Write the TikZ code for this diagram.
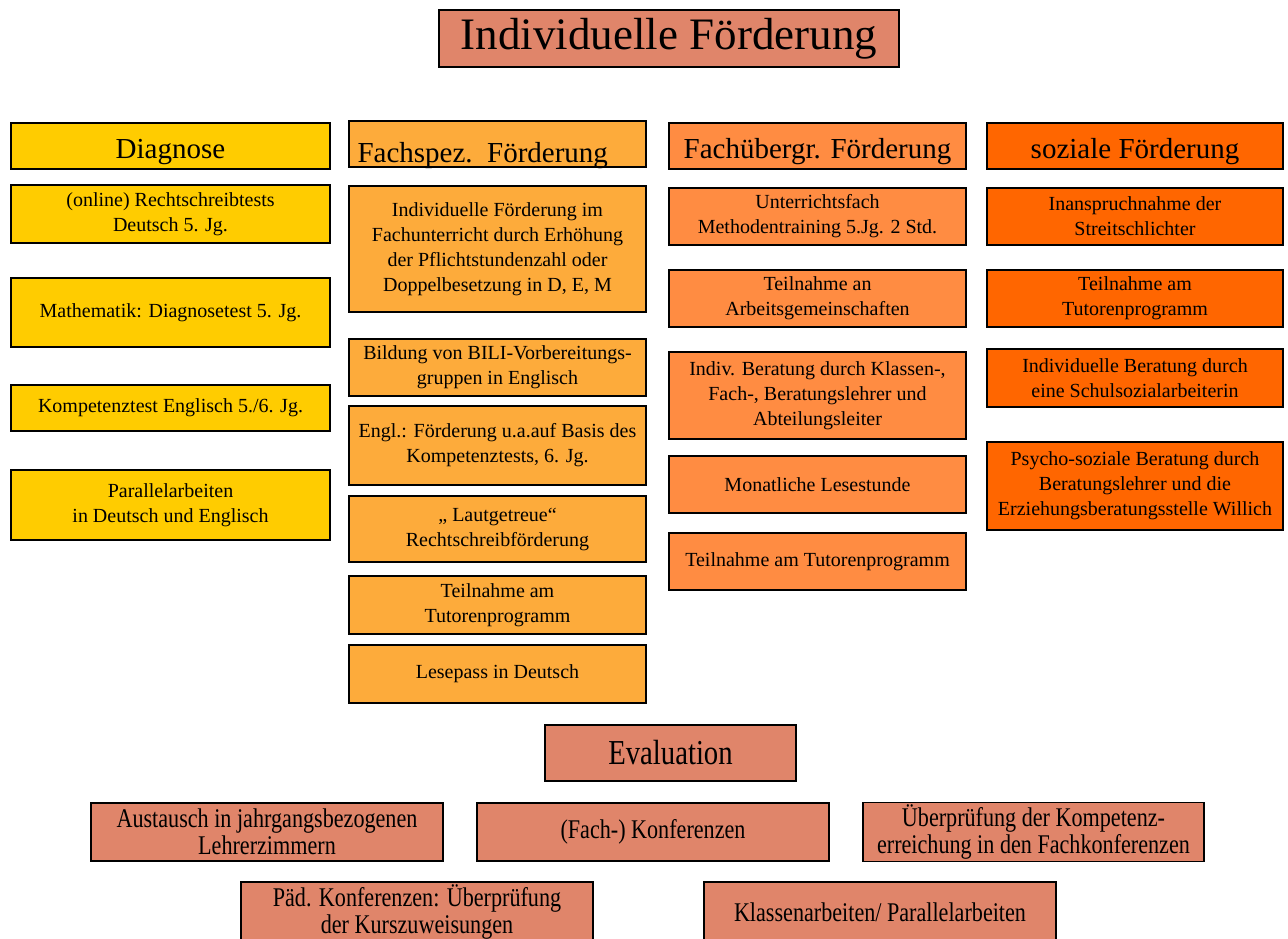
\documentclass[tikz,border=0pt]{standalone}
\usepackage{fontspec}
\setmainfont{Liberation Serif}
\newfontfamily\condfont[FakeStretch=0.82]{Liberation Serif}
\definecolor{titel}{HTML}{E0856A}
\definecolor{diag}{HTML}{FFCC00}
\definecolor{fachspez}{HTML}{FDAB3B}
\definecolor{fachueb}{HTML}{FF8C42}
\definecolor{sozial}{HTML}{FF6600}

\begin{document}
\begin{tikzpicture}[x=1pt,y=-1pt,
    box/.style={draw=black,line width=1.6pt,rectangle,inner sep=2pt,align=center,
      font=\fontsize{20}{25}\selectfont},
    head/.style={box,minimum height=46,text height=28pt,text depth=4pt,
      font=\fontsize{29}{32}\selectfont},
    eval/.style={box,fill=titel,font=\condfont\fontsize{27}{27}\selectfont}]
  \useasboundingbox (0,0) rectangle (1288,938);
  \clip (0,0) rectangle (1288,938);
  \node[box,fill=titel,minimum width=460,minimum height=57,font=\fontsize{45}{48}\selectfont]
    (titel) at (669,38.5) {Individuelle Förderung};

  % Diagnose
  \begin{scope}[every node/.append style={box,fill=diag,minimum width=319}]
    \node[head] (diagnose) at (170.5,146) {Diagnose};
    \node[minimum height=58] (d1) at (170.5,214) {(online) Rechtschreibtests\\Deutsch 5. Jg.};
    \node[minimum height=69] (d2) at (170.5,312.5) {Mathematik: Diagnosetest 5. Jg.};
    \node[minimum height=46] (d3) at (170.5,408) {Kompetenztest Englisch 5./6. Jg.};
    \node[minimum height=70] (d4) at (170.5,505) {Parallelarbeiten\\in Deutsch und Englisch};
  \end{scope}

  % fachspezifisch
  \begin{scope}[every node/.append style={box,fill=fachspez,minimum width=297}]
    \node[head,text width=280,align=left,text height=38pt,text depth=2pt] (fachspez)
      at (497.5,144) {Fachspez. Förderung};
    \node[minimum height=126] (f1) at (497.5,249) {Individuelle Förderung im\\Fachunterricht durch Erhöhung\\der Pflichtstundenzahl oder\\Doppelbesetzung in D, E, M};
    \node[minimum height=57] (f2) at (497.5,367.5) {Bildung von BILI-Vorbereitungs-\\gruppen in Englisch};
    \node[minimum height=79] (f3) at (497.5,445.5) {Engl.: Förderung u.a.auf Basis des\\Kompetenztests, 6. Jg.};
    \node[minimum height=66] (f4) at (497.5,529) {,,\ Lautgetreue``\\Rechtschreibförderung};
    \node[minimum height=58] (f5) at (497.5,605) {Teilnahme am\\Tutorenprogramm};
    \node[minimum height=58] (f6) at (497.5,674) {Lesepass in Deutsch};
  \end{scope}

  % fachuebergreifend
  \begin{scope}[every node/.append style={box,fill=fachueb,minimum width=297}]
    \node[head] (fachueb) at (817.5,146) {Fachübergr. Förderung};
    \node[minimum height=57] (u1) at (817.5,216.5) {Unterrichtsfach\\Methodentraining 5.Jg. 2 Std.};
    \node[minimum height=57] (u2) at (817.5,298.5) {Teilnahme an\\Arbeitsgemeinschaften};
    \node[minimum height=87] (u3) at (817.5,395.5) {Indiv. Beratung durch Klassen-,\\Fach-, Beratungslehrer und\\Abteilungsleiter};
    \node[minimum height=57] (u4) at (817.5,484.5) {Monatliche Lesestunde};
    \node[minimum height=57] (u5) at (817.5,561.5) {Teilnahme am Tutorenprogramm};
  \end{scope}

  % sozial
  \begin{scope}[every node/.append style={box,fill=sozial,minimum width=296}]
    \node[head] (sozial) at (1135,146) {soziale Förderung};
    \node[minimum height=57] (s1) at (1135,216.5) {Inanspruchnahme der\\Streitschlichter};
    \node[minimum height=57] (s2) at (1135,298.5) {Teilnahme am\\Tutorenprogramm};
    \node[minimum height=58] (s3) at (1135,378) {Individuelle Beratung durch\\eine Schulsozialarbeiterin};
    \node[minimum height=88] (s4) at (1135,486) {Psycho-soziale Beratung durch\\Beratungslehrer und die\\Erziehungsberatungsstelle Willich};
  \end{scope}

  % Evaluation
  \node[eval,minimum width=251,minimum height=56,font=\condfont\fontsize{35}{36}\selectfont]
    (evaluation) at (670.5,753) {Evaluation};
  \node[eval,minimum width=352,minimum height=58] (e1) at (267,832) {Austausch in jahrgangsbezogenen\\Lehrerzimmern};
  \node[eval,minimum width=352,minimum height=58] (e2) at (653,832) {(Fach-) Konferenzen};
  \node[eval,minimum width=341,minimum height=58] (e3) at (1033.5,832) {Überprüfung der Kompetenz-\\erreichung in den Fachkonferenzen};
  \node[eval,minimum width=352,minimum height=60] (e4) at (417,912) {Päd. Konferenzen: Überprüfung\\der Kurszuweisungen};
  \node[eval,minimum width=352,minimum height=60] (e5) at (880,912) {Klassenarbeiten/ Parallelarbeiten};
\end{tikzpicture}
\end{document}
